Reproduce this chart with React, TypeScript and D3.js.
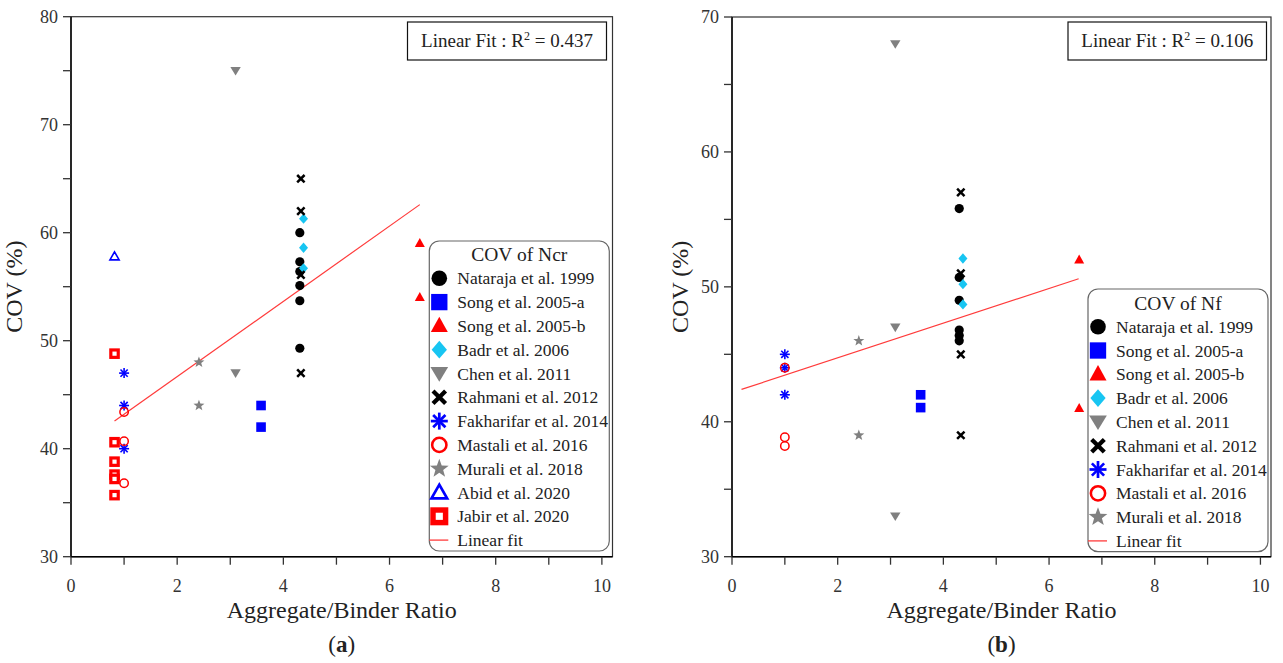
import React from "react";
import * as d3 from "d3";

// ---------- Data ----------
// Panel (a): COV of Ncr
const ncrNataraja: [number, number][] = [[4.31, 60.0], [4.31, 57.3], [4.31, 56.4], [4.31, 55.1], [4.31, 53.7], [4.31, 49.3]];
const ncrSongA: [number, number][] = [[3.58, 44.0], [3.58, 42.0]];
const ncrSongB: [number, number][] = [[6.57, 59.0], [6.57, 54.0]];
const ncrBadr: [number, number][] = [[4.38, 61.3], [4.38, 58.6], [4.38, 56.7]];
const ncrChen: [number, number][] = [[3.1, 75.0], [3.1, 47.0]];
const ncrRahmani: [number, number][] = [[4.33, 65.0], [4.33, 62.0], [4.33, 56.1], [4.33, 47.0]];
const ncrFakharifar: [number, number][] = [[1.0, 47.0], [1.0, 44.0], [1.0, 40.0]];
const ncrMastali: [number, number][] = [[1.0, 43.4], [1.0, 40.7], [1.0, 36.8]];
const ncrMurali: [number, number][] = [[2.41, 48.0], [2.41, 44.0]];
const ncrAbid: [number, number][] = [[0.82, 57.8]];
const ncrJabir: [number, number][] = [[0.82, 48.8], [0.82, 40.6], [0.82, 38.8], [0.82, 37.6], [0.82, 37.2], [0.82, 35.7]];
const ncrFitX = [0.82, 6.57];
const ncrFitY = [42.56, 62.6];
const ncrR2 = "0.437";

// Panel (b): COV of Nf
const nfNataraja: [number, number][] = [[4.3, 55.8], [4.3, 50.7], [4.3, 49.0], [4.3, 46.8], [4.3, 46.4], [4.3, 46.0]];
const nfSongA: [number, number][] = [[3.57, 42.0], [3.57, 41.05]];
const nfSongB: [number, number][] = [[6.57, 52.0], [6.57, 41.0]];
const nfBadr: [number, number][] = [[4.37, 52.1], [4.37, 50.2], [4.37, 48.7]];
const nfChen: [number, number][] = [[3.09, 68.0], [3.09, 47.0], [3.09, 33.0]];
const nfRahmani: [number, number][] = [[4.33, 57.0], [4.33, 51.0], [4.33, 45.0], [4.33, 39.0]];
const nfFakharifar: [number, number][] = [[1.0, 45.0], [1.0, 44.0], [1.0, 42.0]];
const nfMastali: [number, number][] = [[1.0, 44.0], [1.0, 38.85], [1.0, 38.2]];
const nfMurali: [number, number][] = [[2.4, 46.0], [2.4, 39.0]];
const nfFitX = [0.18, 6.56];
const nfFitY = [42.4, 50.6];
const nfR2 = "0.106";

// Axes
const xDomain = [0, 10.2];
const xMajorTicks = [0, 2, 4, 6, 8, 10];
const xMinorTicks = [1, 3, 5, 7, 9];
const yDomainA = [30, 80];
const yMajorTicksA = [30, 40, 50, 60, 70, 80];
const yMinorTicksA = [35, 45, 55, 65, 75];
const yDomainB = [30, 70];
const yMajorTicksB = [30, 40, 50, 60, 70];
const yMinorTicksB = [35, 45, 55, 65];

const xTitle = "Aggregate/Binder Ratio";
const yTitle = "COV (%)";

type MarkerType =
  | "dot" | "square" | "triUp" | "diamond" | "triDown" | "cross"
  | "asterisk" | "openCircle" | "star" | "openTri" | "openSquare" | "line";

const fontStyle = { fontFamily: "Liberation Serif" };

const seriesA = [
  { name: "Nataraja et al. 1999", marker: "dot" as MarkerType, data: ncrNataraja },
  { name: "Song et al. 2005-a", marker: "square" as MarkerType, data: ncrSongA },
  { name: "Song et al. 2005-b", marker: "triUp" as MarkerType, data: ncrSongB },
  { name: "Badr et al. 2006", marker: "diamond" as MarkerType, data: ncrBadr },
  { name: "Chen et al. 2011", marker: "triDown" as MarkerType, data: ncrChen },
  { name: "Rahmani et al. 2012", marker: "cross" as MarkerType, data: ncrRahmani },
  { name: "Fakharifar et al. 2014", marker: "asterisk" as MarkerType, data: ncrFakharifar },
  { name: "Mastali et al. 2016", marker: "openCircle" as MarkerType, data: ncrMastali },
  { name: "Murali et al. 2018", marker: "star" as MarkerType, data: ncrMurali },
  { name: "Abid et al. 2020", marker: "openTri" as MarkerType, data: ncrAbid },
  { name: "Jabir et al. 2020", marker: "openSquare" as MarkerType, data: ncrJabir },
];

const seriesB = [
  { name: "Nataraja et al. 1999", marker: "dot" as MarkerType, data: nfNataraja },
  { name: "Song et al. 2005-a", marker: "square" as MarkerType, data: nfSongA },
  { name: "Song et al. 2005-b", marker: "triUp" as MarkerType, data: nfSongB },
  { name: "Badr et al. 2006", marker: "diamond" as MarkerType, data: nfBadr },
  { name: "Chen et al. 2011", marker: "triDown" as MarkerType, data: nfChen },
  { name: "Rahmani et al. 2012", marker: "cross" as MarkerType, data: nfRahmani },
  { name: "Fakharifar et al. 2014", marker: "asterisk" as MarkerType, data: nfFakharifar },
  { name: "Mastali et al. 2016", marker: "openCircle" as MarkerType, data: nfMastali },
  { name: "Murali et al. 2018", marker: "star" as MarkerType, data: nfMurali },
];

const BLUE = "#0000ff";
const RED = "#ff0000";
const CYAN = "#17c5f2";
const GRAY = "#808080";
const FIT = "#ff3b3b";

function starPath(ro: number, ri: number) {
  const pts: string[] = [];
  for (let i = 0; i < 10; i++) {
    const r = i % 2 === 0 ? ro : ri;
    const a = -Math.PI / 2 + (i * Math.PI) / 5;
    pts.push(`${(r * Math.cos(a)).toFixed(2)},${(r * Math.sin(a)).toFixed(2)}`);
  }
  return "M" + pts.join("L") + "Z";
}

function Marker({ type, x, y, s }: { type: MarkerType; x: number; y: number; s: number }) {
  const t = `translate(${x},${y}) scale(${s})`;
  switch (type) {
    case "dot":
      return <circle transform={t} r={4.6} fill="#000" />;
    case "square":
      return <rect transform={t} x={-4.8} y={-4.8} width={9.6} height={9.6} fill={BLUE} />;
    case "triUp":
      return <path transform={t} d="M0,-5.4L5,3.6L-5,3.6Z" fill={RED} />;
    case "diamond":
      return <path transform={t} d="M0,-5.2L4.5,0L0,5.2L-4.5,0Z" fill={CYAN} />;
    case "triDown":
      return <path transform={t} d="M-5.2,-3.8L5.2,-3.8L0,4.8Z" fill={GRAY} />;
    case "cross":
      return (
        <g transform={t} stroke="#000" strokeWidth={2.5}>
          <line x1={-3.7} y1={-3.7} x2={3.7} y2={3.7} />
          <line x1={-3.7} y1={3.7} x2={3.7} y2={-3.7} />
        </g>
      );
    case "asterisk":
      return (
        <g transform={t} stroke={BLUE} strokeWidth={1.6}>
          <line x1={0} y1={-5} x2={0} y2={5} />
          <line x1={-5} y1={0} x2={5} y2={0} />
          <line x1={-3.6} y1={-3.6} x2={3.6} y2={3.6} />
          <line x1={-3.6} y1={3.6} x2={3.6} y2={-3.6} />
        </g>
      );
    case "openCircle":
      return <circle transform={t} r={4.2} fill="none" stroke={RED} strokeWidth={1.5} />;
    case "star":
      return <path transform={t} d={starPath(5.8, 2.4)} fill={GRAY} />;
    case "openTri":
      return <path transform={t} d="M0,-4.6L4.6,3.4L-4.6,3.4Z" fill="none" stroke={BLUE} strokeWidth={1.6} />;
    case "openSquare":
      return <rect transform={t} x={-3.7} y={-3.7} width={7.4} height={7.4} fill="#fff" stroke={RED} strokeWidth={3.2} />;
    case "line":
      return <line x1={x - 10} y1={y} x2={x + 9} y2={y} stroke={FIT} strokeWidth={1.3} />;
  }
  return null;
}

interface PanelProps {
  left: number;
  right: number;
  top: number;
  bottom: number;
  yDomain: number[];
  yMajor: number[];
  yMinor: number[];
  series: { name: string; marker: MarkerType; data: [number, number][] }[];
  fitX: number[];
  fitY: number[];
  r2: string;
  r2Box: [number, number];
  legendBox: [number, number, number, number];
  legendTitle: string;
  legendTitleY: number;
  legendRow0: number;
  label: string;
  yTitleOffset: number;
}

function Panel(p: PanelProps) {
  const x = d3.scaleLinear().domain(xDomain).range([p.left, p.right]);
  const y = d3.scaleLinear().domain(p.yDomain).range([p.bottom, p.top]);
  const tickLen = 8;
  const fitLine = d3.line<number>().x((d, i) => x(p.fitX[i])).y((d, i) => y(p.fitY[i]));
  const [lx0, ly0, lx1, ly1] = p.legendBox;
  const rowStep = 23.8;
  const legendItems = [...p.series.map((s) => ({ name: s.name, marker: s.marker })), { name: "Linear fit", marker: "line" as MarkerType }];
  const symX = lx0 + 10;
  const textX = lx0 + 28;
  const midX = (p.left + p.right) / 2;
  return (
    <g>
      {/* frame */}
      <rect x={p.left} y={p.top} width={p.right - p.left} height={p.bottom - p.top} fill="none" stroke="#333" strokeWidth={1.2} />
      <line x1={p.left} y1={p.top} x2={p.left} y2={p.bottom} stroke="#000" strokeWidth={1.4} />
      <line x1={p.left} y1={p.bottom} x2={p.right} y2={p.bottom} stroke="#000" strokeWidth={1.4} />
      {/* x ticks */}
      {[...xMajorTicks, ...xMinorTicks].map((t) => (
        <line key={"xt" + t} x1={x(t)} x2={x(t)} y1={p.bottom} y2={p.bottom + tickLen} stroke="#333" strokeWidth={1.3} />
      ))}
      {xMajorTicks.map((t) => (
        <text key={"xl" + t} x={x(t)} y={p.bottom + 35} textAnchor="middle" fontSize={18} fill="#333" style={fontStyle}>
          {t}
        </text>
      ))}
      {/* y ticks */}
      {[...p.yMajor, ...p.yMinor].map((t) => (
        <line key={"yt" + t} x1={p.left - tickLen} x2={p.left} y1={y(t)} y2={y(t)} stroke="#333" strokeWidth={1.3} />
      ))}
      {p.yMajor.map((t) => (
        <text key={"yl" + t} x={p.left - 13} y={y(t)} dy="0.35em" textAnchor="end" fontSize={18} fill="#333" style={fontStyle}>
          {t}
        </text>
      ))}
      {/* axis titles */}
      <text x={midX} y={618} textAnchor="middle" fontSize={24} fill="#222" style={fontStyle}>
        {xTitle}
      </text>
      <text
        transform={`translate(${p.left - p.yTitleOffset},${(p.top + p.bottom) / 2}) rotate(-90)`}
        textAnchor="middle"
        fontSize={24}
        fill="#222"
        style={fontStyle}
      >
        {yTitle}
      </text>
      <text x={midX} y={652} textAnchor="middle" fontSize={23} fill="#222" style={fontStyle}>
        (<tspan fontWeight="bold">{p.label}</tspan>)
      </text>
      {/* fit line */}
      <path d={fitLine(p.fitX) || ""} fill="none" stroke={FIT} strokeWidth={1.2} />
      {/* data */}
      {p.series.map((s) => (
        <g key={s.name}>
          {s.data.map((d, i) => (
            <Marker key={i} type={s.marker} x={x(d[0])} y={y(d[1])} s={1} />
          ))}
        </g>
      ))}
      {/* R2 box */}
      <rect x={p.r2Box[0]} y={22} width={p.r2Box[1] - p.r2Box[0]} height={38} fill="#fff" stroke="#111" strokeWidth={1.2} />
      <text x={(p.r2Box[0] + p.r2Box[1]) / 2} y={47} textAnchor="middle" fontSize={19} fill="#222" style={fontStyle}>
        Linear Fit : R<tspan dy={-7} fontSize={12}>2</tspan>
        <tspan dy={7}> = {p.r2}</tspan>
      </text>
      {/* legend */}
      <rect x={lx0} y={ly0} width={lx1 - lx0} height={ly1 - ly0} rx={10} ry={10} fill="#fff" stroke="#666" strokeWidth={1.2} />
      <text x={(lx0 + lx1) / 2} y={p.legendTitleY} textAnchor="middle" fontSize={19.5} fill="#222" style={fontStyle}>
        {p.legendTitle}
      </text>
      {legendItems.map((it, i) => {
        const ry = p.legendRow0 + i * rowStep;
        return (
          <g key={"lg" + i}>
            <Marker type={it.marker} x={symX} y={ry} s={1.7} />
            <text x={textX} y={ry} dy="0.35em" fontSize={17.5} fill="#222" style={fontStyle}>
              {it.name}
            </text>
          </g>
        );
      })}
    </g>
  );
}

export default function App() {
  return (
    <svg width={1283} height={663} style={{ position: "absolute", left: 0, top: 0, background: "#fff" }}>
      <rect x={0} y={0} width={1283} height={663} fill="#fff" />
      <Panel
        left={71}
        right={612.5}
        top={16.7}
        bottom={556.7}
        yDomain={yDomainA}
        yMajor={yMajorTicksA}
        yMinor={yMinorTicksA}
        series={seriesA}
        fitX={ncrFitX}
        fitY={ncrFitY}
        r2={ncrR2}
        r2Box={[407.5, 606.5]}
        legendBox={[429.3, 241, 609.3, 551]}
        legendTitle="COV of Ncr"
        legendTitleY={261}
        legendRow0={278.3}
        label="a"
        yTitleOffset={49}
      />
      <Panel
        left={732}
        right={1271}
        top={17}
        bottom={556.7}
        yDomain={yDomainB}
        yMajor={yMajorTicksB}
        yMinor={yMinorTicksB}
        series={seriesB}
        fitX={nfFitX}
        fitY={nfFitY}
        r2={nfR2}
        r2Box={[1068, 1266.5]}
        legendBox={[1088, 289, 1268, 551.7]}
        legendTitle="COV of Nf"
        legendTitleY={310}
        legendRow0={326.7}
        label="b"
        yTitleOffset={44}
      />
    </svg>
  );
}
